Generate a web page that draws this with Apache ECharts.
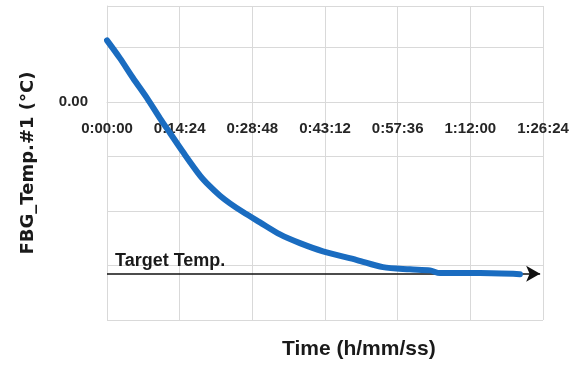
<!DOCTYPE html>
<html>
<head>
<meta charset="utf-8">
<script src="https://cdn.jsdelivr.net/npm/echarts@6/dist/echarts.min.js"></script>
<style>html,body{margin:0;padding:0;background:#fff;}#c{width:579px;height:366px;}</style>
</head>
<body>
<div id="c"></div>
<script>
// elapsed time in seconds
var timeSec = [0, 155, 309, 476, 630, 749, 904, 1106, 1225, 1344, 1462, 1617, 1819, 2057, 2294, 2568, 2972, 3281, 3602, 3840, 3959, 4435, 4910];
// FBG temperature (axis units, 0 = labelled 0.00 line)
var tempVals = [1.13, 0.80, 0.44, 0.07, -0.30, -0.57, -0.92, -1.35, -1.55, -1.72, -1.86, -2.02, -2.21, -2.43, -2.59, -2.74, -2.90, -3.03, -3.07, -3.09, -3.14, -3.14, -3.16];
var xTickLabels = ['0:00:00', '0:14:24', '0:28:48', '0:43:12', '0:57:36', '1:12:00', '1:26:24'];
var targetTemp = -3.15;
var targetEnd = 5150;
var yMin = -4, yMax = 1.76;

var data = timeSec.map(function (t, i) { return [t, tempVals[i]]; });
var sans = "'Liberation Sans', Arial, sans-serif";
var gridTop = 6, gridBottom = 46, H = 366;
var plotH = H - gridTop - gridBottom;
// horizontal axis crosses the vertical axis at 0.00
var crossOffset = -plotH * (0 - yMin) / (yMax - yMin);

var chart = echarts.init(document.getElementById('c'), null, {renderer: 'canvas'});
chart.setOption({
  animation: false,
  backgroundColor: '#ffffff',
  grid: {left: 107, right: 36, top: gridTop, bottom: gridBottom, outerBoundsMode: 'none'},
  xAxis: {
    type: 'value', min: 0, max: 5184, interval: 864, position: 'bottom', offset: crossOffset,
    axisLine: {onZero: false, lineStyle: {color: '#d9d9d9', width: 1}},
    axisTick: {show: false},
    splitLine: {show: true, lineStyle: {color: '#d9d9d9', width: 1}},
    axisLabel: {
      margin: 19, color: '#262626', fontSize: 15, fontWeight: 'bold', fontFamily: sans,
      formatter: function (v) { return xTickLabels[Math.round(v / 864)] || ''; }
    }
  },
  yAxis: {
    type: 'value', min: yMin, max: yMax, interval: 1,
    name: 'FBG_Temp.#1 (°C)', nameLocation: 'middle', nameGap: 70, nameRotate: 90,
    nameTextStyle: {fontFamily: "'DejaVu Sans', sans-serif", fontWeight: 'bold', fontSize: 18, color: '#1a1a1a'},
    axisLine: {show: true, onZero: false, lineStyle: {color: '#d9d9d9', width: 1}},
    axisTick: {show: false},
    splitLine: {show: true, lineStyle: {color: '#d9d9d9', width: 1}},
    axisLabel: {
      margin: 19, color: '#262626', fontSize: 15, fontWeight: 'bold', fontFamily: sans,
      formatter: function (v) { return Math.abs(v) < 1e-9 ? '0.00' : ''; }
    }
  },
  graphic: [{
    type: 'text', left: 282, top: 339,
    style: {text: 'Time (h/mm/ss)', fontSize: 21, fontWeight: 'bold', fontFamily: sans, fill: '#1a1a1a'}
  }],
  series: [{
    type: 'line', data: data, showSymbol: false, smooth: 0.3,
    lineStyle: {color: '#1a6cc0', width: 6, cap: 'round', join: 'round'},
    z: 3,
    markLine: {
      silent: true, symbol: ['none', 'arrow'], symbolSize: [12, 14],
      lineStyle: {color: '#111111', width: 1.5, type: 'solid'},
      label: {
        show: true, position: 'insideStartTop', formatter: 'Target Temp.',
        fontSize: 18, fontWeight: 'bold', fontFamily: sans, color: '#1a1a1a', distance: [8, 4]
      },
      data: [[{coord: [0, targetTemp]}, {coord: [targetEnd, targetTemp]}]],
      z: 2
    }
  }]
});
</script>
</body>
</html>
